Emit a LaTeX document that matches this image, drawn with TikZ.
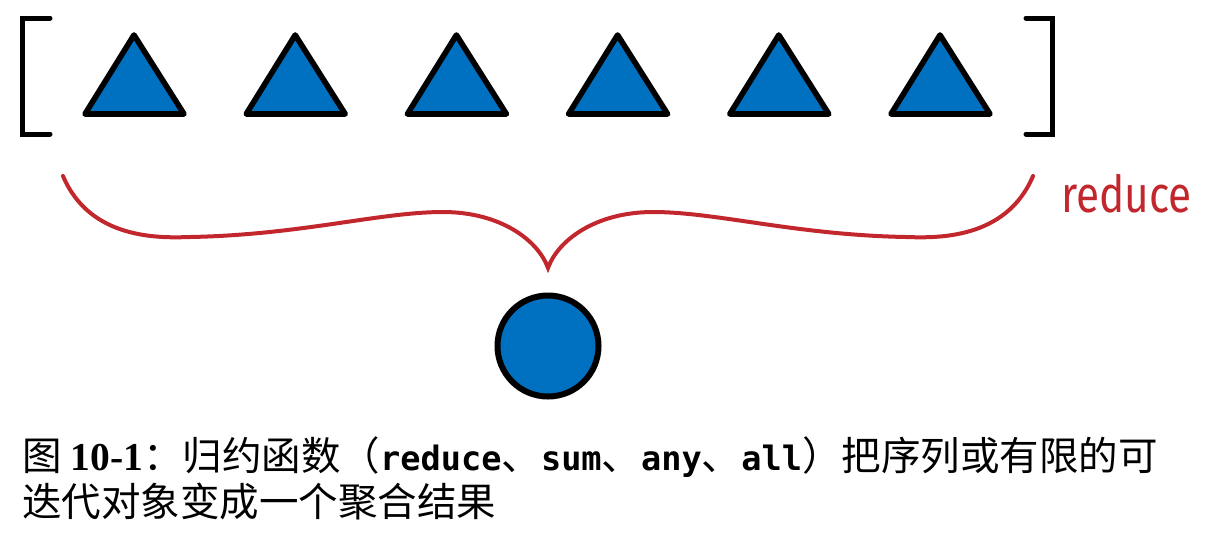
\documentclass[tikz,border=0pt]{standalone}
\usepackage{fontspec}
\setmainfont{Liberation Serif}
\newfontfamily\cjk{Noto Sans CJK SC}
\newfontfamily\codefont{DejaVu Sans Mono}
\newfontfamily\redfont{Fira Sans}
\definecolor{triblue}{RGB}{0,112,192}
\definecolor{bracered}{RGB}{193,39,45}
\newcommand{\TriGap}{161.2}
\newcommand{\code}[1]{{\codefont\bfseries\fontsize{16.8pt}{20pt}\selectfont #1}}

\begin{document}
\begin{tikzpicture}[x=0.5pt,y=-0.5pt,
  tri/.style={draw=black, fill=triblue, line width=2.8pt, line join=round},
  brk/.style={line width=2.5pt, line cap=round}]

\useasboundingbox (0,0) rectangle (1214,532);

\draw [brk] (50,18) -- (22,18) -- (22,134) -- (50,134);
\draw [brk] (1026,18) -- (1052,18) -- (1052,134) -- (1026,134);

\draw [tri] (85,114) -- (134,35) -- (184,114) -- cycle;
\draw [tri] (\TriGap + 85,114) -- (\TriGap + 134,35) -- (\TriGap + 184,114) -- cycle;
\draw [tri] (2*\TriGap + 85,114) -- (2*\TriGap + 134,35) -- (2*\TriGap + 184,114) -- cycle;
\draw [tri] (3*\TriGap + 85,114) -- (3*\TriGap + 134,35) -- (3*\TriGap + 184,114) -- cycle;
\draw [tri] (4*\TriGap + 85,114) -- (4*\TriGap + 134,35) -- (4*\TriGap + 184,114) -- cycle;
\draw [tri] (5*\TriGap + 85,114) -- (5*\TriGap + 134,35) -- (5*\TriGap + 184,114) -- cycle;

\draw [bracered, line width=2pt, line cap=round]
  (63,176) .. controls (90,240) and (160,238) .. (190,237)
  .. controls (300,235) and (380,212) .. (443,212)
  .. controls (500,212) and (538,240) .. (548,268)
  .. controls (558,240) and (596,212) .. (653,212)
  .. controls (716,212) and (796,235) .. (906,237)
  .. controls (936,238) and (1006,240) .. (1033,176);
\node [anchor=base west, inner sep=0pt, text=bracered, font=\redfont\fontsize{25.5pt}{30pt}\selectfont] (reducelabel) at (1061,212) {\scalebox{0.83}[1]{reduce}};

\node [circle, draw, fill=triblue, line width=3pt, minimum size=50.5pt, inner sep=0pt] (result) at (548,346) {};

\node [anchor=base west, inner sep=0pt, font=\cjk\fontsize{19.75pt}{24pt}\selectfont] (caption) at (22,470)
  {图 {\rmfamily\bfseries 10-1}：归约函数（\code{reduce}、\code{sum}、\code{any}、\code{all}）把序列或有限的可};
\node [anchor=base west, inner sep=0pt, font=\cjk\fontsize{19.75pt}{24pt}\selectfont] (caption2) at (22,516)
  {迭代对象变成一个聚合结果};

\end{tikzpicture}
\end{document}
